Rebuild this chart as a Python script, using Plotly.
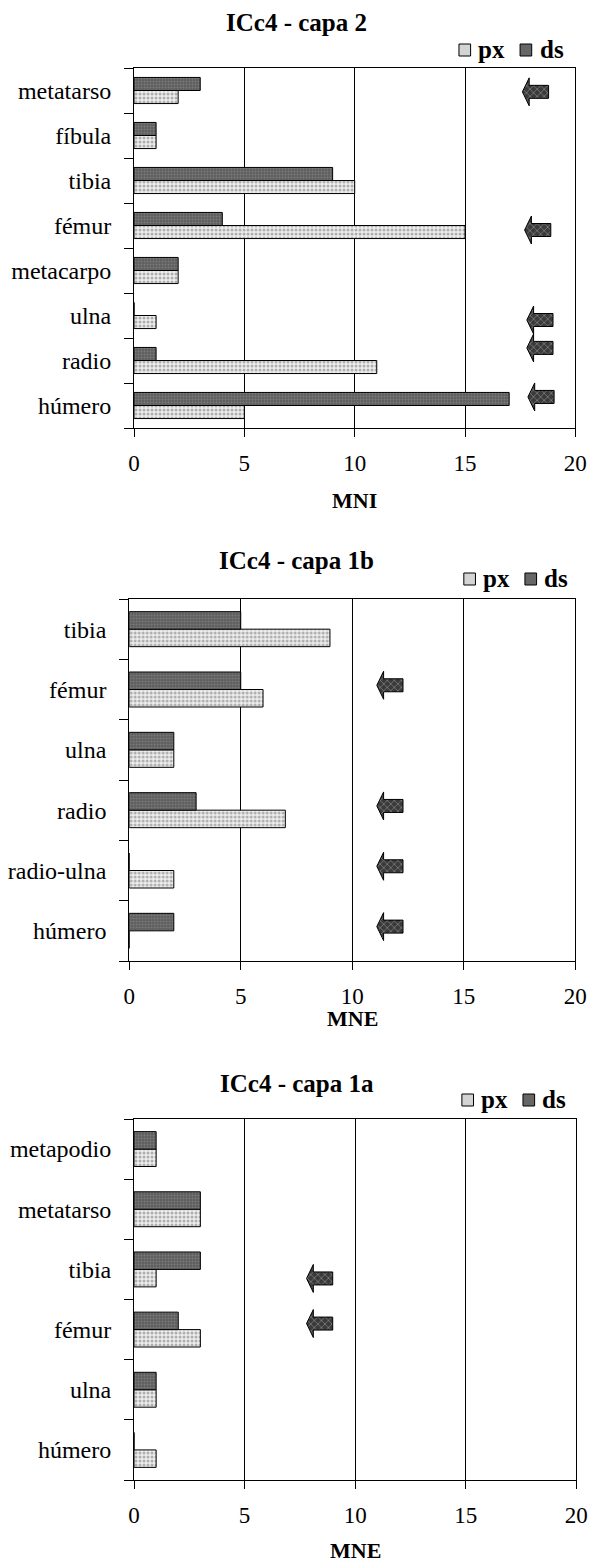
import plotly.graph_objects as go

W, H = 599, 1568
FONT = "Liberation Serif"

# ---------------- data ----------------
# Panel 1: ICc4 - capa 2 (MNI); categories listed bottom -> top
cats1 = ["húmero", "radio", "ulna", "metacarpo", "fémur", "tibia", "fíbula", "metatarso"]
px1 = [5, 11, 1, 2, 15, 10, 1, 2]
ds1 = [17, 1, 0, 2, 4, 9, 1, 3]
arrow_cats1 = ["metatarso", "fémur", "ulna", "radio", "húmero"]
arrow_x1 = [17.6, 17.7, 17.8, 17.8, 17.85]
arrow_dy1 = [-0.03, -0.1, -0.1, 0.28, 0.19]

# Panel 2: ICc4 - capa 1b (MNE)
cats2 = ["húmero", "radio-ulna", "radio", "ulna", "fémur", "tibia"]
px2 = [0, 2, 7, 2, 6, 9]
ds2 = [2, 0, 3, 2, 5, 5]
arrow_cats2 = ["fémur", "radio", "radio-ulna", "húmero"]
arrow_x2 = [11.1, 11.1, 11.1, 11.1]
arrow_dy2 = [0.07, 0.07, 0.07, 0.07]

# Panel 3: ICc4 - capa 1a (MNE)
cats3 = ["húmero", "ulna", "fémur", "tibia", "metatarso", "metapodio"]
px3 = [1, 1, 3, 1, 3, 1]
ds3 = [0, 1, 2, 3, 3, 1]
arrow_cats3 = ["tibia", "fémur"]
arrow_x3 = [7.8, 7.8]
arrow_dy3 = [-0.15, 0.1]

titles = ["ICc4 - capa 2", "ICc4 - capa 1b", "ICc4 - capa 1a"]
xtitles = ["MNI", "MNE", "MNE"]
x_ticks = [0, 5, 10, 15, 20]
series_names = ["px", "ds"]

# ---------------- layout geometry (pixels) ----------------
panels = [
    dict(cats=cats1, px=px1, ds=ds1, ac=arrow_cats1, ax=arrow_x1, ady=arrow_dy1,
         box=(132, 587, 68, 428), title_y=22, leg_y=50, leg_x=467, xt_y=500),
    dict(cats=cats2, px=px2, ds=ds2, ac=arrow_cats2, ax=arrow_x2, ady=arrow_dy2,
         box=(127, 587, 599, 961), title_y=560, leg_y=579, leg_x=472, xt_y=1018),
    dict(cats=cats3, px=px3, ds=ds3, ac=arrow_cats3, ax=arrow_x3, ady=arrow_dy3,
         box=(132, 588, 1119, 1480), title_y=1083, leg_y=1100, leg_x=470, xt_y=1550),
]

PX_PATTERN = dict(shape=".", bgcolor="#eeeeee", fgcolor="#6e6e6e", size=4, solidity=0.45)
DS_PATTERN = dict(shape=".", bgcolor="#5e5e5e", fgcolor="#9a9a9a", size=3, solidity=0.3)
ARROW_PATTERN = dict(shape="x", bgcolor="#3a3a3a", fgcolor="#d8d8d8", size=5, solidity=0.25)
SWATCH_COLORS = ["#d4d4d4", "#666666"]

fig = go.Figure()
annotations = []
shapes = []
layout_axes = {}

for i, p in enumerate(panels):
    k = "" if i == 0 else str(i + 1)
    xa, ya = "x" + k, "y" + k
    l, r, t, b = p["box"]
    n = len(p["cats"])
    ypos = list(range(n))

    fig.add_trace(go.Bar(
        y=ypos, x=p["px"], orientation="h", name="px", xaxis=xa, yaxis=ya,
        marker=dict(color="#eeeeee", pattern=PX_PATTERN, line=dict(color="black", width=1)),
        showlegend=False))
    fig.add_trace(go.Bar(
        y=ypos, x=p["ds"], orientation="h", name="ds", xaxis=xa, yaxis=ya,
        marker=dict(color="#5e5e5e", pattern=DS_PATTERN, line=dict(color="black", width=1)),
        showlegend=False))

    # block arrows
    ppx = (r - l) / 20.0          # pixels per x unit
    ppy = (b - t) / n             # pixels per category
    hl, L, hh, bh = 7 / ppx, 27 / ppx, 14 / ppy, 6.5 / ppy
    for c, x0, dy in zip(p["ac"], p["ax"], p["ady"]):
        yc = p["cats"].index(c) + dy
        xs = [x0, x0 + hl, x0 + hl, x0 + L, x0 + L, x0 + hl, x0 + hl, x0]
        ys = [yc, yc + hh, yc + bh, yc + bh, yc - bh, yc - bh, yc - hh, yc]
        fig.add_trace(go.Scatter(
            x=xs, y=ys, mode="lines", fill="toself", xaxis=xa, yaxis=ya,
            line=dict(color="black", width=1), fillcolor="#3a3a3a",
            fillpattern=ARROW_PATTERN, showlegend=False, hoverinfo="skip"))

    layout_axes["xaxis" + k] = dict(
        domain=[l / W, r / W], anchor=ya, range=[0, 20], tickvals=x_ticks,
        ticks="outside", ticklen=8, tickcolor="black", tickwidth=1,
        showgrid=True, gridcolor="black", gridwidth=1, zeroline=False,
        showline=True, linecolor="black", linewidth=1, mirror=True,
        tickfont=dict(family=FONT, size=23, color="black"), ticklabelstandoff=6,
        fixedrange=True)
    layout_axes["yaxis" + k] = dict(
        domain=[1 - b / H, 1 - t / H], anchor=xa, range=[-0.5, n - 0.5],
        tickvals=ypos, ticktext=p["cats"], ticks="",
        minor=dict(tickvals=[j - 0.5 for j in range(n + 1)], ticks="outside",
                   ticklen=9, tickcolor="black", tickwidth=1, showgrid=False),
        showgrid=False, zeroline=False, showline=True, linecolor="black",
        linewidth=1, mirror=True,
        tickfont=dict(family=FONT, size=24, color="black"), ticklabelstandoff=17,
        fixedrange=True)

    # custom legend: swatch square + bold label, laid out left to right
    lx, ly = p["leg_x"], p["leg_y"]
    for j, (nm, col) in enumerate(zip(series_names, SWATCH_COLORS)):
        sx = lx + j * 63
        shapes.append(dict(
            type="rect", xref="paper", yref="paper",
            x0=sx / W, x1=(sx + 12) / W, y0=1 - (ly + 6) / H, y1=1 - (ly - 6) / H,
            fillcolor=col, line=dict(color="black", width=1)))
        annotations.append(dict(
            text=nm, x=(sx + 18) / W, y=1 - (ly - 1) / H, xref="paper", yref="paper",
            showarrow=False, xanchor="left", yanchor="middle",
            font=dict(family=FONT, size=25, color="black", weight="bold")))

    annotations.append(dict(
        text=titles[i], x=300 / W, y=1 - p["title_y"] / H, xref="paper", yref="paper",
        showarrow=False, xanchor="center", yanchor="middle",
        font=dict(family=FONT, size=25, color="black", weight="bold")))
    annotations.append(dict(
        text=xtitles[i], x=((l + r) / 2) / W, y=1 - p["xt_y"] / H, xref="paper", yref="paper",
        showarrow=False, xanchor="center", yanchor="middle",
        font=dict(family=FONT, size=22, color="black", weight="bold")))

fig.update_layout(
    width=W, height=H, margin=dict(l=0, r=0, t=0, b=0),
    paper_bgcolor="white", plot_bgcolor="white",
    barmode="group", bargap=0.42, bargroupgap=0, showlegend=False,
    annotations=annotations, shapes=shapes, **layout_axes)

fig.write_html(
    "out.html",
    config={"displayModeBar": False, "responsive": False},
    post_script="document.body.style.margin='0px';document.body.style.overflow='hidden';",
)
